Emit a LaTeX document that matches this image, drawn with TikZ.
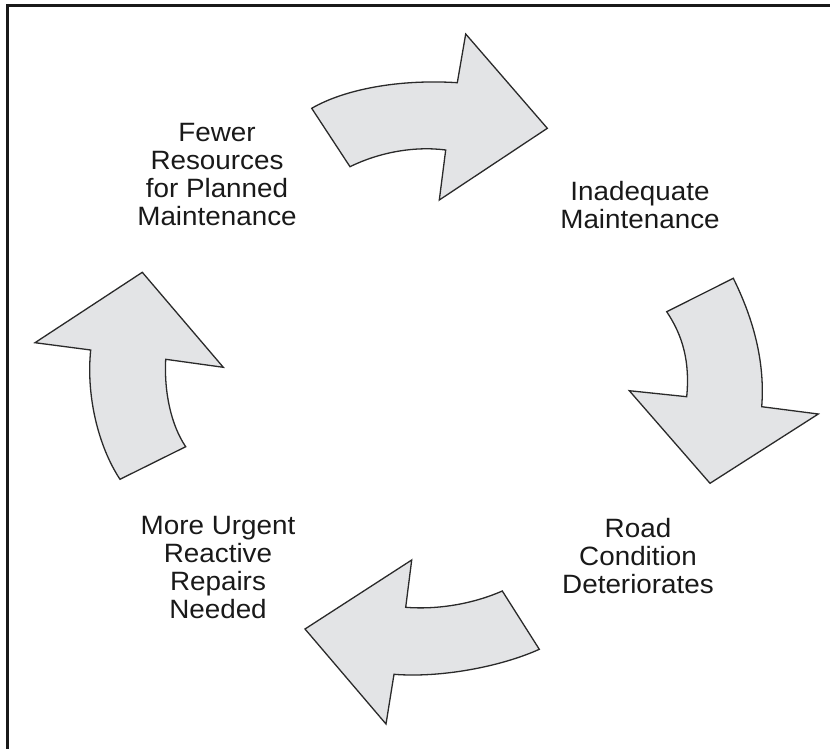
\documentclass[tikz,border=0pt]{standalone}
\usepackage{fontspec}
\setmainfont{Liberation Sans}
\newfontfamily\labelfont[FakeStretch=1.05]{Liberation Sans}
\definecolor{arrowfill}{HTML}{E3E4E6}
\definecolor{arrowline}{HTML}{2A2A2A}
\begin{document}
\begin{tikzpicture}[x=1pt,y=-1pt,
  blockarrow/.style={fill=arrowfill,draw=arrowline,line width=1.3pt,line join=miter},
  cyclelabel/.style={align=center,font=\labelfont\fontsize{26.5}{28}\selectfont,inner sep=0pt,text=black!90}]
\useasboundingbox (0,0) rectangle (830,749);
\draw[line width=3pt,black!90] (7.5,749) -- (7.5,6) -- (830,6);

% top arrow
\draw[blockarrow] (311.7,108.3) -- (350,166.7)
  .. controls (380,152) and (415,146) .. (445.7,150)
  -- (439.3,200) -- (547.3,128.3) -- (465.7,34) -- (457.3,82.7)
  .. controls (400,79) and (345,89) .. (311.7,108.3) -- cycle;

% right arrow
\draw[blockarrow] (666.7,311.7) -- (733.3,278.3)
  .. controls (755,322) and (765,365) .. (761.7,406.7)
  -- (818.3,414) -- (710,483.3) -- (629.3,390.7) -- (686.7,396.7)
  .. controls (690,362) and (683,336) .. (666.7,311.7) -- cycle;

% bottom arrow
\draw[blockarrow] (502.3,591) -- (539.3,649.3)
  .. controls (500,667) and (440,678) .. (394,674.3)
  -- (386,724) -- (305,629) -- (411.7,560) -- (405.7,607.3)
  .. controls (440,610) and (475,603) .. (502.3,591) -- cycle;

% left arrow
\draw[blockarrow] (142.3,272.3) -- (223.3,367.3) -- (165.7,359.3)
  .. controls (164,392) and (171,425) .. (185.7,446.7)
  -- (120,479.3)
  .. controls (98,446) and (86,395) .. (90.7,350)
  -- (35,342.7) -- cycle;

\node[cyclelabel] (fewer) at (217,175) {Fewer\\Resources\\for Planned\\Maintenance};
\node[cyclelabel] (inadequate) at (640,205) {Inadequate\\Maintenance};
\node[cyclelabel] (road) at (638,556) {Road\\Condition\\Deteriorates};
\node[cyclelabel] (urgent) at (218,568) {More Urgent\\Reactive\\Repairs\\Needed};
\end{tikzpicture}
\end{document}
